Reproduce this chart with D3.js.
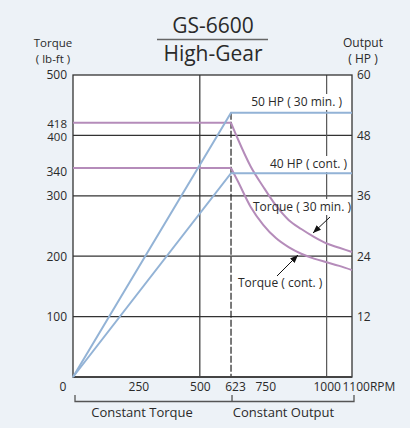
<!DOCTYPE html>
<html>
<head>
<meta charset="utf-8">
<script src="https://cdn.jsdelivr.net/npm/d3@7"></script>
<style>
  html, body { margin: 0; padding: 0; background: #edf2f7; }
  svg { display: block; font-family: "Open Sans", sans-serif; }
</style>
</head>
<body>
<svg id="chart" width="410" height="428"></svg>
<script>
// ---- data ----
const rpmTicks = [250, 500, 623, 750, 1000, 1100];
const torqueTicks = [100, 200, 300, 340, 400, 418, 500];
const hpTicks = [12, 24, 36, 48, 60];
const gridTorque = [100, 200, 300, 400];
const gridRpm = [500, 1000];
const baseRpm = 623;

// output (HP, right axis)
const hp30Rpm = [0, 623, 1100];
const hp30Vals = [0, 52.5, 52.5];
const hpContRpm = [0, 623, 1100];
const hpContVals = [0, 40.5, 40.5];

// torque (lb-ft, left axis)
const torque30Rpm = [0, 623, 650, 700, 750, 800, 850, 900, 950, 1000, 1050, 1100];
const torque30Vals = [421, 421, 394, 349, 315, 284, 260, 245, 232, 221, 214, 207];
const torqueContRpm = [0, 623, 650, 700, 750, 800, 850, 900, 950, 1000, 1050, 1100];
const torqueContVals = [346, 346, 324, 282, 252, 230, 215, 204, 196, 190, 184, 177];

const blue = "#93b3d6";
const purple = "#b58cba";
const gridCol = "#333";
const textCol = "#2a2a2a";

const svg = d3.select("#chart");
const W = 410, H = 428;
const L = 73, R = 352, T = 75, B = 377;

const x = d3.scaleLinear().domain([0, 1100]).range([L, R]);
const yT = d3.scaleLinear().domain([0, 500]).range([B, T]);
const yH = d3.scaleLinear().domain([0, 60]).range([B, T]);

// background
svg.append("rect").attr("width", W).attr("height", H).attr("fill", "#edf2f7");
svg.append("rect").attr("x", L).attr("y", T).attr("width", R - L).attr("height", B - T).attr("fill", "#fff");

// title
svg.append("text").attr("x", 213).attr("y", 33).attr("text-anchor", "middle")
  .attr("font-size", 21).attr("fill", textCol).text("GS-6600");
svg.append("line").attr("x1", 157).attr("x2", 268).attr("y1", 39.5).attr("y2", 39.5)
  .attr("stroke", "#666").attr("stroke-width", 1.3);
svg.append("text").attr("x", 213).attr("y", 61).attr("text-anchor", "middle")
  .attr("font-size", 21).attr("fill", textCol).text("High-Gear");

// axis titles
svg.append("text").attr("x", 53).attr("y", 46.5).attr("text-anchor", "middle")
  .attr("font-size", 11.5).attr("fill", textCol).text("Torque");
svg.append("text").attr("x", 53).attr("y", 63).attr("text-anchor", "middle")
  .attr("font-size", 11.5).attr("fill", textCol).text("( lb-ft )");
svg.append("text").attr("x", 363).attr("y", 46.5).attr("text-anchor", "middle")
  .attr("font-size", 12).attr("fill", textCol).text("Output");
svg.append("text").attr("x", 363).attr("y", 63).attr("text-anchor", "middle")
  .attr("font-size", 12).attr("fill", textCol).text("( HP )");

// grid
const grid = svg.append("g");
grid.selectAll(".hg").data(gridTorque).join("line")
  .attr("x1", L).attr("x2", R).attr("y1", d => yT(d)).attr("y2", d => yT(d))
  .attr("stroke", gridCol).attr("stroke-width", 1.2);
grid.selectAll(".vg").data(gridRpm).join("line")
  .attr("x1", d => x(d)).attr("x2", d => x(d)).attr("y1", T).attr("y2", B)
  .attr("stroke", (d, i) => i === 0 ? gridCol : "#555").attr("stroke-width", 1.2);

// label backgrounds and texts
const labels = [
  { t: "50 HP ( 30 min. )", x: 342, y: 106, a: "end" },
  { t: "40 HP ( cont. )", x: 347, y: 168, a: "end" },
  { t: "Torque ( 30 min. )", x: 351, y: 211, a: "end" },
  { t: "Torque ( cont. )", x: 238, y: 287, a: "start" }
];
const bgG = svg.append("g");

// dashed base-speed line
const hpPeak = yH(hp30Vals[1]);
svg.append("line").attr("x1", x(baseRpm)).attr("x2", x(baseRpm))
  .attr("y1", hpPeak).attr("y2", B)
  .attr("stroke", "#222").attr("stroke-width", 1.2).attr("stroke-dasharray", "7,2");

// frame
svg.append("rect").attr("x", L).attr("y", T).attr("width", R - L).attr("height", B - T)
  .attr("fill", "none").attr("stroke", gridCol).attr("stroke-width", 1.3);
svg.append("line").attr("x1", L).attr("x2", R).attr("y1", B).attr("y2", B)
  .attr("stroke", "#444").attr("stroke-width", 2);

// curves
const lineH = d3.line().x(d => x(d[0])).y(d => yH(d[1]));
const lineT = d3.line().x(d => x(d[0])).y(d => yT(d[1]));
const lineTc = d3.line().x(d => x(d[0])).y(d => yT(d[1])).curve(d3.curveMonotoneX);

function drawTorque(rpms, vals) {
  const pts = rpms.map((r, i) => [r, vals[i]]);
  svg.append("path").attr("d", lineT(pts.slice(0, 2)))
    .attr("fill", "none").attr("stroke", purple).attr("stroke-width", 2);
  svg.append("path").attr("d", lineTc(pts.slice(1)))
    .attr("fill", "none").attr("stroke", purple).attr("stroke-width", 2);
}
drawTorque(torque30Rpm, torque30Vals);
drawTorque(torqueContRpm, torqueContVals);

[[hp30Rpm, hp30Vals], [hpContRpm, hpContVals]].forEach(([r, v]) => {
  svg.append("path").attr("d", lineH(r.map((d, i) => [d, v[i]])))
    .attr("fill", "none").attr("stroke", blue).attr("stroke-width", 2);
});

// labels with white backgrounds
labels.forEach(l => {
  const t = svg.append("text").attr("x", l.x).attr("y", l.y).attr("text-anchor", l.a)
    .attr("font-size", 12).attr("fill", textCol).text(l.t);
  const bb = t.node().getBBox();
  bgG.append("rect").attr("x", bb.x - 1).attr("y", bb.y + 1).attr("width", bb.width + 2)
    .attr("height", bb.height - 1).attr("fill", "#fff");
});

// arrows
const defs = svg.append("defs");
defs.append("marker").attr("id", "ah").attr("viewBox", "0 0 10 10").attr("refX", 10).attr("refY", 5)
  .attr("markerWidth", 8).attr("markerHeight", 8).attr("markerUnits", "userSpaceOnUse").attr("orient", "auto")
  .append("path").attr("d", "M0,1 L10,5 L0,9 Z").attr("fill", "#111");
svg.append("line").attr("x1", 330).attr("y1", 217).attr("x2", 313).attr("y2", 233)
  .attr("stroke", "#111").attr("stroke-width", 1).attr("marker-end", "url(#ah)");
svg.append("line").attr("x1", 277).attr("y1", 276).attr("x2", 298).attr("y2", 255)
  .attr("stroke", "#111").attr("stroke-width", 1).attr("marker-end", "url(#ah)");

// axes
const fmt = d3.format("d");
const axL = d3.axisLeft(yT).tickValues(torqueTicks).tickFormat(fmt).tickSize(0).tickPadding(6);
const gL = svg.append("g").attr("transform", `translate(${L},0)`).call(axL);
const axR = d3.axisRight(yH).tickValues(hpTicks).tickFormat(fmt).tickSize(0).tickPadding(5);
const gR = svg.append("g").attr("transform", `translate(${R},0)`).call(axR);
const axB = d3.axisBottom(x).tickValues(rpmTicks).tickFormat(fmt).tickSize(0).tickPadding(5);
const gB = svg.append("g").attr("transform", `translate(0,${B})`).call(axB);
[gL, gR, gB].forEach(g => {
  g.select(".domain").remove();
  g.selectAll("text").attr("font-size", 12).attr("fill", textCol)
    .attr("font-family", "'Open Sans', sans-serif");
});
gL.selectAll(".tick text").filter(d => d === 418).attr("font-size", 11.5).attr("dy", "0.22em");
gL.selectAll(".tick text").filter(d => d === 400).attr("font-size", 11.5).attr("dy", "0.42em");
gB.selectAll(".tick text").filter(d => d === 1100)
  .attr("text-anchor", "start").attr("dx", "-10px").text("1100RPM");
gB.selectAll(".tick text").filter(d => d === 623).attr("dx", "4px");
gB.selectAll(".tick text").filter(d => d === 250 || d === 750).attr("dx", "2px");
// origin label
svg.append("text").attr("x", 63).attr("y", 391).attr("text-anchor", "middle")
  .attr("font-size", 12).attr("fill", textCol).text("0");

// bracket
const bY = 401.5;
svg.append("path")
  .attr("d", `M${x(0) + 2},395 V${bY} H${x(1100) + 2} V395 M${x(baseRpm) + 1},395 V${bY}`)
  .attr("fill", "none").attr("stroke", "#555").attr("stroke-width", 1.3);
svg.append("text").attr("x", (x(0) + x(baseRpm)) / 2 - 10).attr("y", 417).attr("text-anchor", "middle")
  .attr("font-size", 13).attr("fill", textCol).text("Constant Torque");
svg.append("text").attr("x", (x(baseRpm) + x(1100)) / 2 - 8).attr("y", 417).attr("text-anchor", "middle")
  .attr("font-size", 13).attr("fill", textCol).text("Constant Output");
</script>
</body>
</html>
